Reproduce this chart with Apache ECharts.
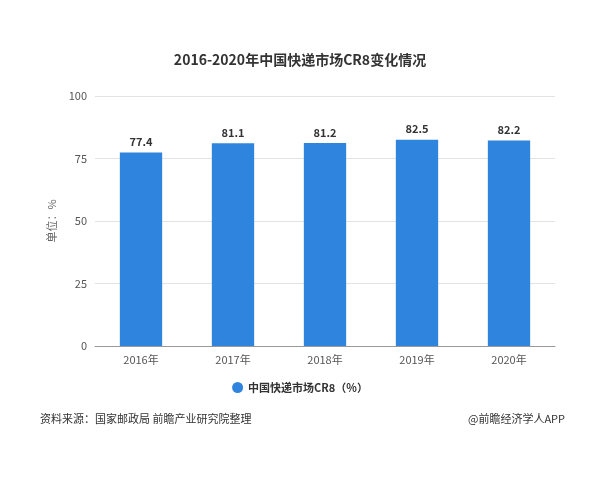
<!DOCTYPE html>
<html><head><meta charset="utf-8">
<script src="https://cdn.jsdelivr.net/npm/echarts@6/dist/echarts.min.js"></script>
<style>body{margin:0;background:#fff}#c{width:600px;height:480px}</style>
</head><body><div id="c"></div>
<script>
const categories = ['2016年','2017年','2018年','2019年','2020年'];
const values = [77.4, 81.1, 81.2, 82.5, 82.2];
const seriesName = '中国快递市场CR8（%）';
const chart = echarts.init(document.getElementById('c'));
const ff = '"Noto Sans CJK SC", sans-serif';
chart.setOption({
  animation:false,
  textStyle:{fontFamily:ff},
  title:{text:'2016-2020年中国快递市场CR8变化情况',left:'center',top:48,
    textStyle:{fontSize:14,fontWeight:'bold',color:'#333',fontFamily:ff}},
  grid:{left:95,right:45,top:96,bottom:134},
  legend:{bottom:82,left:'center',icon:'circle',itemWidth:11,itemHeight:11,
    textStyle:{fontSize:11,color:'#333',fontWeight:'bold'}},
  xAxis:{type:'category',data:categories,
    axisLine:{lineStyle:{color:'#999'}},axisTick:{show:false},
    axisLabel:{color:'#555',fontSize:11,margin:8}},
  yAxis:{type:'value',min:0,max:100,interval:25,name:'单位：%',nameLocation:'middle',nameGap:30,
    nameTextStyle:{color:'#666',fontSize:11},
    axisLine:{show:false},axisTick:{show:false},
    axisLabel:{color:'#555',fontSize:11},
    splitLine:{lineStyle:{color:'#e3e3e3'}}},
  series:[{name:seriesName,type:'bar',data:values,barWidth:'46%',
    itemStyle:{color:'#2f84de'},
    label:{show:true,position:'top',color:'#333',fontWeight:'bold',fontSize:11}}],
  graphic:[
    {type:'text',left:40,top:413,style:{text:'资料来源：国家邮政局 前瞻产业研究院整理',fontSize:11,fill:'#333',fontFamily:ff}},
    {type:'text',right:35,top:413,style:{text:'@前瞻经济学人APP',fontSize:11,fill:'#333',fontFamily:ff}}
  ]
});
</script></body></html>
